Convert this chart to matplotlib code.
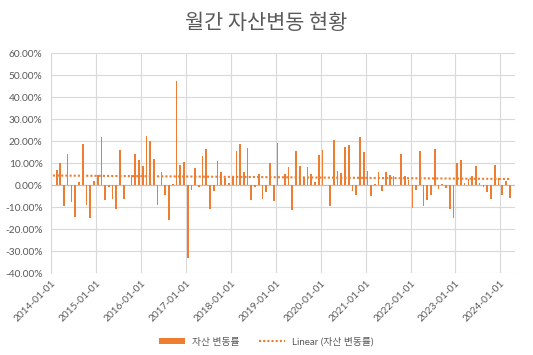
import matplotlib
matplotlib.use("Agg")
import matplotlib.pyplot as plt
import matplotlib.dates as mdates
from matplotlib.ticker import FuncFormatter, MultipleLocator
import numpy as np
import pandas as pd

plt.rcParams['font.family'] = ['Lato', 'Noto Sans CJK KR', 'DejaVu Sans']

title = "월간 자산변동 현황"
series_name = "자산 변동률"
trend_name = "Linear (자산 변동률)"
start_month = "2014-01-01"

# monthly change rate (%), 2014-01 .. 2024-03
values_2014 = [0.0, 7.0, 10.0, -9.2, 14.2, -7.4, -14.2, 1.5, 18.8, -8.8, -14.7, 2.0]
values_2015 = [4.7, 22.0, -6.7, -0.6, -6.1, -10.6, 16.1, -6.1, 0.2, 4.7, 14.2, 11.5]
values_2016 = [8.8, 22.4, 20.2, 12.0, -8.8, 6.1, -4.2, -15.8, 0.6, 47.4, 9.2, 10.6]
values_2017 = [-32.9, -2.0, 7.9, -0.6, 13.3, 16.5, -10.6, -2.4, 11.1, 6.1, 3.3, 1.1]
values_2018 = [4.2, 15.6, 18.8, 6.1, 17.0, -6.5, -0.6, 5.2, -6.1, -2.9, 10.2, -7.0]
values_2019 = [19.2, 0.2, 5.2, 8.3, -11.1, 15.6, 8.8, 3.3, 8.3, 5.2, 1.5, 13.8]
values_2020 = [16.1, 0.2, -9.2, 20.6, 6.5, 5.6, 17.4, 18.3, -2.4, -4.2, 22.0, 15.2]
values_2021 = [6.5, -4.7, 0.6, 6.1, -2.4, 6.1, 4.7, 4.2, 0.2, 14.2, 4.2, 2.4]
values_2022 = [-10.2, -2.0, 15.6, -9.2, -6.5, -4.2, 16.5, -1.5, 0.6, -1.1, -10.6, -14.7]
values_2023 = [10.2, 11.5, 1.1, 2.9, 4.2, 8.8, 1.1, -0.6, -2.9, -6.1, 9.2, 3.3]
values_2024 = [-4.2, 2.0, -5.6]

values = np.array(values_2014 + values_2015 + values_2016 + values_2017 + values_2018 +
                  values_2019 + values_2020 + values_2021 + values_2022 + values_2023 +
                  values_2024) / 100.0
months = pd.date_range(start_month, periods=len(values), freq="MS")
centers = months + pd.Timedelta(days=15)

year_ticks = pd.date_range("2014-01-01", "2024-01-01", freq="YS")
tick_labels = [d.strftime("%Y-%m-%d") for d in year_ticks]

orange = "#ED7D31"
grid_c = "#D9D9D9"
text_c = "#595959"

fig = plt.figure(figsize=(5.33, 3.55), dpi=100)
ax = fig.add_axes([0.0957, 0.2301, 0.8711, 0.6198])

bars = ax.bar(centers, values, width=14, color=orange, zorder=3, label=series_name)

# linear trend
idx = np.arange(len(values))
k, b = np.polyfit(idx, values, 1)
line, = ax.plot(centers, k * idx + b, linestyle=(0, (1, 1)), color=orange, lw=1.5,
                zorder=4, label=trend_name)

ax.set_ylim(-0.4, 0.6)
ax.yaxis.set_major_locator(MultipleLocator(0.1))
ax.yaxis.set_major_formatter(FuncFormatter(lambda v, p: f"{v*100:.2f}%"))
ax.set_xlim(pd.Timestamp("2014-01-01"), pd.Timestamp("2024-05-01"))
ax.set_xticks(year_ticks)
ax.set_xticklabels(tick_labels, rotation=45, ha="right", rotation_mode="anchor")

ax.grid(True, color=grid_c, lw=0.8, zorder=0)
ax.axhline(0, color="#BFBFBF", lw=0.8, zorder=2)
for s in ["top", "right", "bottom"]:
    ax.spines[s].set_visible(False)
ax.spines["left"].set_color(grid_c)
ax.tick_params(axis="both", length=0, labelsize=7.3, colors=text_c)
ax.tick_params(axis="y", pad=6)
ax.tick_params(axis="x", pad=4)

fig.text(0.5, 0.935, title, ha="center", va="center", fontsize=15, color=text_c,
         family=['Noto Sans CJK KR'])

fig.legend(handles=[bars, line], labels=[series_name, trend_name],
           loc="center", bbox_to_anchor=(0.5, 0.037), ncol=2, frameon=False,
           labelcolor=text_c, handlelength=2.6, handleheight=0.5, columnspacing=2.0,
           prop={'family': ['Lato', 'Noto Sans CJK KR'], 'size': 7})

fig.savefig("out.png", dpi=100)
